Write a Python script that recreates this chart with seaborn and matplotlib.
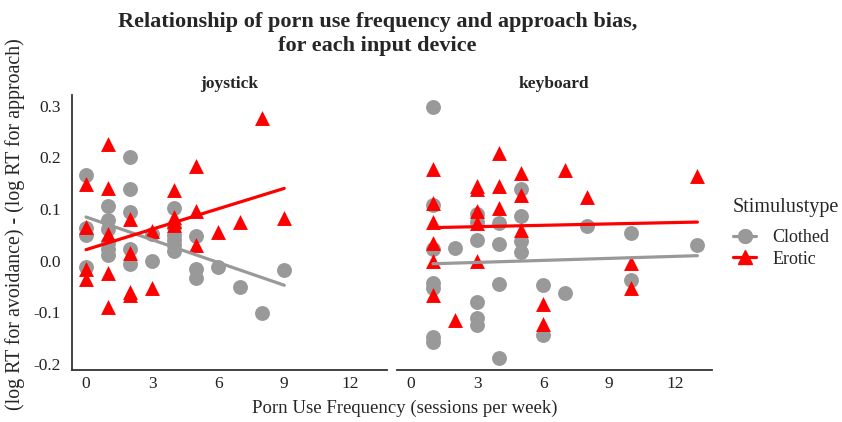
import numpy as np
import pandas as pd
import matplotlib
matplotlib.use("Agg")
import matplotlib.pyplot as plt
from matplotlib.lines import Line2D
import seaborn as sns

# joystick, clothed stimuli
joy_clothed_x = [0, 0, 0, 0, 1, 1, 1, 1, 1, 1, 2, 2, 2, 2, 2, 3, 3,
                 4, 4, 4, 4, 4, 4, 5, 5, 5, 6, 7, 8, 9]
joy_clothed_y = [0.167, 0.064, 0.05, -0.013, 0.105, 0.078, 0.062, 0.035, 0.022, 0.01,
                 0.201, 0.138, 0.095, 0.022, -0.006, 0.051, -0.001,
                 0.102, 0.065, 0.05, 0.04, 0.03, 0.018, 0.047, -0.016, -0.033,
                 -0.012, -0.052, -0.102, -0.019]

# joystick, erotic stimuli
joy_erotic_x = [0, 0, 0, 0, 1, 1, 1, 1, 1, 2, 2, 2, 2, 3, 3,
                4, 4, 4, 4, 5, 5, 5, 6, 7, 8, 9]
joy_erotic_y = [0.149, 0.066, -0.016, -0.035, 0.227, 0.14, 0.051, -0.025, -0.09,
                0.081, 0.015, -0.061, -0.066, 0.058, -0.053,
                0.137, 0.084, 0.077, 0.07, 0.183, 0.097, 0.03,
                0.056, 0.074, 0.277, 0.082]

# keyboard, clothed stimuli
key_clothed_x = [1, 1, 1, 1, 1, 1, 1, 2, 3, 3, 3, 3, 3, 3, 4, 4, 4, 4,
                 5, 5, 5, 5, 6, 6, 7, 8, 10, 10, 13]
key_clothed_y = [0.297, 0.107, 0.022, -0.043, -0.053, -0.149, -0.157, 0.024,
                 0.09, 0.074, 0.04, -0.08, -0.111, -0.124,
                 0.072, 0.032, -0.045, -0.188, 0.139, 0.087, 0.038, 0.016,
                 -0.048, -0.145, -0.063, 0.068, 0.053, -0.038, 0.03]

# keyboard, erotic stimuli
key_erotic_x = [1, 1, 1, 1, 1, 1, 2, 3, 3, 3, 3, 3, 4, 4, 4, 5, 5, 5,
                6, 6, 7, 8, 10, 10, 13]
key_erotic_y = [0.178, 0.111, 0.074, 0.034, -0.001, -0.066, -0.115,
                0.144, 0.139, 0.097, 0.072, -0.001, 0.208, 0.144, 0.102,
                0.17, 0.128, 0.059, -0.084, -0.123, 0.175, 0.123,
                -0.004, -0.053, 0.165]

devices = ["joystick", "keyboard"]
stimuli = ["Clothed", "Erotic"]
colors = {"Clothed": "#999999", "Erotic": "#ff0000"}
markers = {"Clothed": "o", "Erotic": "^"}
x_ticks = [0, 3, 6, 9, 12]
y_ticks = [-0.2, -0.1, 0.0, 0.1, 0.2, 0.3]

frames = []
for dev, stim, xs, ys in [
    ("joystick", "Clothed", joy_clothed_x, joy_clothed_y),
    ("joystick", "Erotic", joy_erotic_x, joy_erotic_y),
    ("keyboard", "Clothed", key_clothed_x, key_clothed_y),
    ("keyboard", "Erotic", key_erotic_x, key_erotic_y),
]:
    frames.append(pd.DataFrame({"device": dev, "Stimulustype": stim,
                                "freq": xs, "bias": ys}))
df = pd.concat(frames, ignore_index=True)

sns.set_theme(style="white")
plt.rcParams["font.family"] = ["Liberation Serif", "DejaVu Serif"]
plt.rcParams["axes.unicode_minus"] = False

fig = plt.figure(figsize=(8.42, 4.22), dpi=100)
ax1 = fig.add_axes([71.7 / 842, 1 - 370 / 422, 315 / 842, 275 / 422])
ax2 = fig.add_axes([396.7 / 842, 1 - 370 / 422, 315 / 842, 275 / 422],
                   sharex=ax1, sharey=ax1)

for ax, dev in zip([ax1, ax2], devices):
    for stim in stimuli:
        sub = df[(df.device == dev) & (df.Stimulustype == stim)]
        sns.regplot(data=sub, x="freq", y="bias", ax=ax, ci=None,
                    marker=markers[stim], color=colors[stim], truncate=True,
                    scatter_kws={"s": 115, "alpha": 1, "linewidths": 0},
                    line_kws={"lw": 2.3})
    ax.set_title(dev, fontsize=12.5, fontweight="bold", pad=5)
    ax.set_xlabel("")
    ax.set_ylabel("")
    ax.set_xticks(x_ticks)
    ax.set_yticks(y_ticks)
    ax.tick_params(length=0, labelsize=12.5, colors="#222222")
    ax.tick_params(axis="x", pad=4)
    ax.tick_params(axis="y", pad=8)
    for side in ["top", "right"]:
        ax.spines[side].set_visible(False)
    for side in ["left", "bottom"]:
        ax.spines[side].set_color("#333333")
        ax.spines[side].set_linewidth(1.3)

ax1.set_yticklabels([f"{v:.1f}" for v in y_ticks])
ax2.spines["left"].set_visible(False)
ax2.tick_params(labelleft=False)

fig.text(0.018, 1 - 224 / 422, "(log RT for avoidance) - (log RT for approach)",
         rotation=90, ha="center", va="center", fontsize=14.3)

fig.text(0.481, 1 - 408 / 422, "Porn Use Frequency (sessions per week)",
         ha="center", va="center", fontsize=13.5)
fig.text(0.448, 1 - 34 / 422, "Relationship of porn use frequency and approach bias,\nfor each input device",
         ha="center", va="center", fontsize=16, fontweight="bold", linespacing=1.2)

handles = [Line2D([0], [0], color=colors[s], marker=markers[s], markersize=10,
                  lw=2.3) for s in stimuli]
leg = fig.legend(handles, stimuli, title="Stimulustype", loc="upper left",
                 bbox_to_anchor=(0.862, 1 - 191 / 422), frameon=False, fontsize=13,
                 title_fontsize=14.5, handlelength=1.3, handletextpad=0.9,
                 labelspacing=0.25, borderaxespad=0)
leg._legend_box.align = "left"
leg._legend_box.sep = 8.5

fig.savefig("out.png", dpi=100)
